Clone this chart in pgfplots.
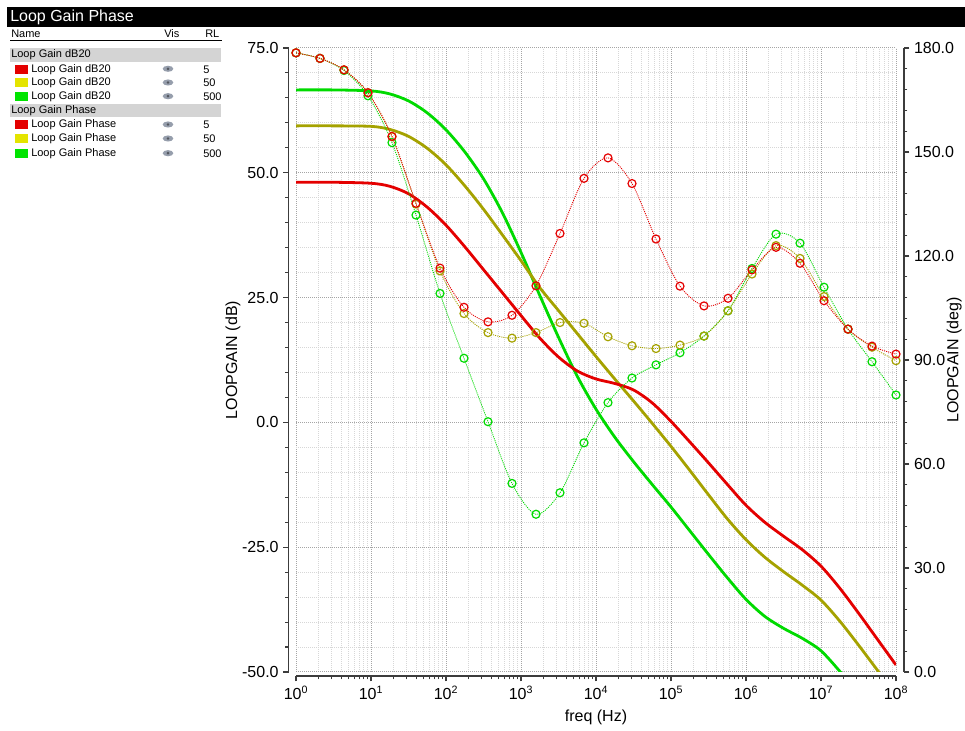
\documentclass[border=0pt]{standalone}
\usepackage{fontspec}
\setmainfont{Liberation Sans}
\usepackage{pgfplots}
\usepackage{pgfplotstable}
\pgfplotsset{compat=1.18}

\definecolor{cRed}{RGB}{228,0,0}
\definecolor{cOlive}{RGB}{165,162,0}
\definecolor{cGreen}{RGB}{0,218,0}
\definecolor{swRed}{RGB}{228,0,0}
\definecolor{swYellow}{RGB}{228,228,0}
\definecolor{swGreen}{RGB}{0,228,0}
\definecolor{band}{RGB}{212,212,212}
\definecolor{gridMajor}{RGB}{165,165,165}
\definecolor{gridMinor}{RGB}{215,215,215}
\definecolor{eye}{RGB}{150,158,172}
\definecolor{spine}{RGB}{60,60,60}

% loop gain magnitude (dB20), one table per load RL
\pgfplotstableread{
f         db
1         48.1
3.162     48.1
10        47.9
17.78     47.3
31.62     45.8
56.23     43.1
100       39.5
177.8     35.2
316.2     30.6
562.3     26.0
1000      21.4
1778      16.9
3162      13.1
5623      10.3
1e4       8.7
17783     7.8
31623     6.5
56234     3.9
1e5       0.2
177828    -3.9
316228    -8.1
562341    -12.4
1e6       -16.6
1778279   -20.0
3162278   -22.8
5623413   -25.5
1e7       -28.8
17782794  -33.2
31622777  -38.2
56234133  -43.4
1e8       -48.6
}\magA
\pgfplotstableread{
f         db
1         59.4
3.162     59.4
10        59.3
17.78     58.7
31.62     57.3
56.23     54.9
100       51.6
177.8     47.4
316.2     42.7
562.3     37.6
1000      32.4
1778      27.0
3162      22.4
5623      17.8
1e4       13.2
17783     8.7
31623     4.3
56234     -0.2
1e5       -4.8
177828    -9.6
316228    -14.5
562341    -19.3
1e6       -23.5
1778279   -27.0
3162278   -29.9
5623413   -32.6
1e7       -35.6
17782794  -39.8
31622777  -44.6
56234133  -49.6
1e8       -54.6
}\magB
\pgfplotstableread{
f         db
1         66.6
3.162     66.6
10        66.4
17.78     65.8
31.62     64.4
56.23     62.0
100       58.6
177.8     54.2
316.2     48.8
562.3     42.05
1000      34.05
1778      25.45
3162      17.05
5623      9.25
1e4       2.65
17783     -2.95
31623     -7.85
56234     -12.45
1e5       -16.95
177828    -21.7
316228    -26.45
562341    -31.1
1e6       -35.45
1778279   -38.85
3162278   -41.25
5623413   -43.25
1e7       -45.75
17782794  -49.85
19952623  -50.9
}\magC

% loop gain phase (deg) at the marker frequencies
\pgfplotstableread{
f          red    olive  green
1          178.6  178.6  178.6
2.0893     177.0  177.0  177.0
4.3652     173.7  173.7  173.5
9.1201     167.1  167.1  166.2
19.055     154.5  154.4  152.7
39.811     135.2  135.0  131.8
83.176     116.5  115.7  109.2
173.78     105.2  103.4  90.5
363.08     101.0  97.9   72.2
758.58     102.9  96.3   54.4
1584.9     111.4  97.9   45.5
3311.3     126.5  100.8  51.7
6918.3     142.4  100.6  66.1
14454      148.3  96.7   77.7
30200      140.9  94.1   84.8
63096      124.9  93.3   88.6
131826     111.3  94.3   92.1
275423     105.6  96.9   96.9
575440     107.8  104.2  104.2
1202264    116.0  114.8  116.4
2511886    122.5  123.0  126.3
5248075    117.9  119.3  123.7
10964782   107.1  108.3  111.0
22908677   98.9   98.9   98.9
47863009   94.0   93.7   89.5
1e8        91.7   89.8   79.9
}\phase

\pgfplotsset{
  lgframe/.style={
    at={(222pt,44.25pt)}, anchor=south west,
    scale only axis, width=450pt, height=468pt,
    xmin=1, xmax=1e8,
    /pgf/number format/assume math mode=true,
    tick label style={font=\fontsize{12}{14}\selectfont},
    label style={font=\fontsize{12}{14}\selectfont},
    tick align=outside,
    axis line style={spine, line width=1.1pt},
    tick style={spine, line width=0.8pt},
    major tick length=4pt,
    minor tick length=2.5pt,
    yticklabel style={/pgf/number format/.cd, fixed, fixed zerofill, precision=1},
  },
  phaseline/.style={#1, smooth, line width=0.65pt, dash pattern=on 0.8pt off 0.8pt,
    mark=o, mark size=3pt, mark options={solid, line width=0.9pt}},
  magline/.style={#1, smooth, line width=2.1pt},
}

\begin{document}
\begin{tikzpicture}
\path[use as bounding box] (0,0) rectangle (723.75pt,548.25pt);

% title bar and signal table
\begin{scope}[x=0.75pt, y=-0.75pt, shift={(0pt,548.25pt)}]
  \fill[black] (7,7) rectangle (965,27);
  \node[anchor=west, inner sep=0pt, text=white, font=\fontsize{12}{14}\selectfont] at (10,17.5) {Loop Gain Phase};
  \begin{scope}[every node/.style={anchor=west, inner sep=0pt, font=\fontsize{8.25}{10}\selectfont}]
    \node at (11,34) {Name};
    \node at (164,34) {Vis};
    \node at (205,34) {RL};
    \draw[black, line width=0.75pt] (10,41) -- (222,41);
    \fill[band] (10,48) rectangle (221,62);
    \node at (11,55) {Loop Gain dB20};
    \fill[band] (10,104) rectangle (221,117);
    \node at (11,111) {Loop Gain Phase};
    \foreach \yy/\cc/\nm/\rl in {69.3/swRed/dB20/5, 83/swYellow/dB20/50, 96.7/swGreen/dB20/500,
                                 125/swRed/Phase/5, 139/swYellow/Phase/50, 153.7/swGreen/Phase/500}{
      \fill[\cc] (15,\yy-4.5) rectangle (28,\yy+4.5);
      \node at (31,\yy) {Loop Gain \nm};
      \fill[eye] (168,\yy-0.5) ellipse [x radius=4pt, y radius=2.3pt];
      \fill[eye!55!black] (168,\yy-0.5) circle [radius=1.1pt];
      \node at (203,\yy) {\rl};
    }
  \end{scope}
\end{scope}

% magnitude axis (left)
\begin{axis}[
  xmode=log,
  lgframe,
  ymin=-50, ymax=75,
  axis lines*=left,
  axis x line shift=3pt,
  axis y line shift=5.5pt,
  xtick={1,10,100,1000,1e4,1e5,1e6,1e7,1e8},
  xticklabels={10\textsuperscript{0},10\textsuperscript{1},10\textsuperscript{2},10\textsuperscript{3},
               10\textsuperscript{4},10\textsuperscript{5},10\textsuperscript{6},10\textsuperscript{7},10\textsuperscript{8}},
  minor xtick={2,3,4,5,6,7,8,9,20,30,40,50,60,70,80,90,200,300,400,500,600,700,800,900,
               2000,3000,4000,5000,6000,7000,8000,9000,2e4,3e4,4e4,5e4,6e4,7e4,8e4,9e4,
               2e5,3e5,4e5,5e5,6e5,7e5,8e5,9e5,2e6,3e6,4e6,5e6,6e6,7e6,8e6,9e6,
               2e7,3e7,4e7,5e7,6e7,7e7,8e7,9e7},
  ytick={-50,-25,0,25,50,75},
  minor ytick={-45,-40,-35,-30,-20,-15,-10,-5,5,10,15,20,30,35,40,45,55,60,65,70},
  grid=both,
  major grid style={gridMajor, line width=0.75pt, dash pattern=on 0.75pt off 0.75pt},
  minor grid style={gridMinor, line width=0.75pt, dash pattern=on 0.75pt off 0.75pt},
  xlabel={freq (Hz)},
  xlabel style={at={(axis description cs:0.5,-0.072)}, anchor=center},
  ylabel={LOOPGAIN (dB)},
  ylabel style={at={(axis description cs:-0.105,0.5)}, anchor=center},
]
\addplot[magline=cGreen] table[x=f, y=db] {\magC};
\addplot[magline=cOlive] table[x=f, y=db] {\magB};
\addplot[magline=cRed]   table[x=f, y=db] {\magA};
\end{axis}

% phase axis (right)
\begin{axis}[
  xmode=log,
  lgframe,
  ymin=0, ymax=180,
  axis x line=none,
  axis y line*=right,
  axis y line shift=6pt,
  ytick={0,30,60,90,120,150,180},
  minor y tick num=4,
  ylabel={LOOPGAIN (deg)},
  ylabel style={at={(axis description cs:1.097,0.5)}, anchor=center},
]
\addplot[phaseline=cGreen] table[x=f, y=green] {\phase};
\addplot[phaseline=cOlive] table[x=f, y=olive] {\phase};
\addplot[phaseline=cRed]   table[x=f, y=red]   {\phase};
\end{axis}
\end{tikzpicture}
\end{document}
